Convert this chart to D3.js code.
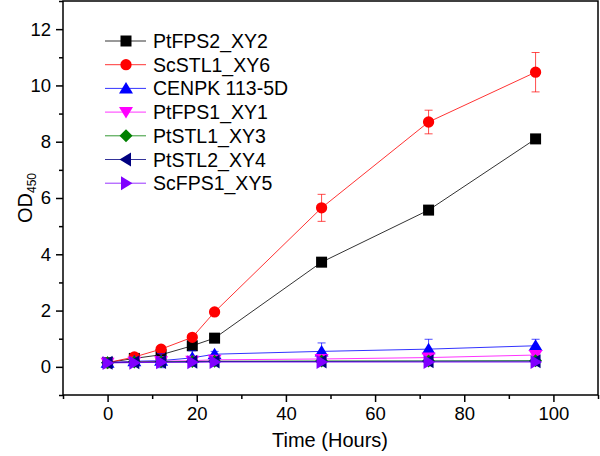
<!DOCTYPE html>
<html>
<head>
<meta charset="utf-8">
<script src="https://cdn.jsdelivr.net/npm/d3@7"></script>
<style>
  body { margin: 0; background: #fff; }
  text { font-family: "Liberation Sans", Arial, sans-serif; }
</style>
</head>
<body>
<svg id="chart" width="600" height="456"></svg>
<script>
// sampling times (hours)
var times = [0, 6, 12, 19, 24, 48, 72, 96];

// series names, colours and marker shapes
var names = ["PtFPS2_XY2", "ScSTL1_XY6", "CENPK 113-5D", "PtFPS1_XY1", "PtSTL1_XY3", "PtSTL2_XY4", "ScFPS1_XY5"];
var colors = ["#000000", "#ff0000", "#0000ff", "#ff00ff", "#008000", "#000080", "#8000ff"];
var shapes = ["square", "circle", "triUp", "triDown", "diamond", "triLeft", "triRight"];

// OD450 values
var ptFPS2 = [0.15, 0.30, 0.43, 0.75, 1.02, 3.72, 5.57, 8.10];
var scSTL1 = [0.15, 0.35, 0.63, 1.05, 1.95, 5.65, 8.70, 10.47];
var cenpk  = [0.15, 0.20, 0.22, 0.32, 0.45, 0.55, 0.63, 0.75];
var ptFPS1 = [0.15, 0.18, 0.20, 0.22, 0.25, 0.28, 0.33, 0.42];
var ptSTL1 = [0.15, 0.17, 0.18, 0.19, 0.20, 0.21, 0.21, 0.22];
var ptSTL2 = [0.15, 0.16, 0.17, 0.18, 0.19, 0.19, 0.20, 0.20];
var scFPS1 = [0.14, 0.15, 0.16, 0.16, 0.17, 0.17, 0.17, 0.17];

// error bars (+/-)
var errFPS2 = [0.03, 0.03, 0.03, 0.03, 0.03, 0.05, 0.05, 0.05];
var errSTL1 = [0.05, 0.05, 0.05, 0.06, 0.06, 0.48, 0.42, 0.70];
var errCEN  = [0.05, 0.10, 0.25, 0.25, 0.10, 0.30, 0.35, 0.23];
var errFPS1 = [0.03, 0.03, 0.03, 0.05, 0.05, 0.05, 0.05, 0.10];
var errSTL1b = [0.02, 0.02, 0.02, 0.02, 0.02, 0.02, 0.02, 0.02];
var errSTL2 = [0.02, 0.02, 0.02, 0.02, 0.02, 0.02, 0.02, 0.02];
var errFPS1b = [0.02, 0.02, 0.02, 0.02, 0.02, 0.02, 0.02, 0.05];

var values = [ptFPS2, scSTL1, cenpk, ptFPS1, ptSTL1, ptSTL2, scFPS1];
var errors = [errFPS2, errSTL1, errCEN, errFPS1, errSTL1b, errSTL2, errFPS1b];

var xTicks = [0, 20, 40, 60, 80, 100];
var yTicks = [0, 2, 4, 6, 8, 10, 12];

var svg = d3.select("#chart");
var plotL = 63, plotR = 598, plotT = 1, plotB = 395;

var x = d3.scaleLinear().domain([-10, 110]).range([plotL, plotR]);
var y = d3.scaleLinear().domain([-1, 13]).range([plotB, plotT]);

// frame
svg.append("rect")
  .attr("x", plotL).attr("y", plotT)
  .attr("width", plotR - plotL).attr("height", plotB - plotT)
  .attr("fill", "none").attr("stroke", "#000").attr("stroke-width", 1.5);

// axes
var xAxis = svg.append("g").attr("transform", "translate(0," + plotB + ")")
  .call(d3.axisBottom(x).tickValues(xTicks).tickSize(7).tickSizeOuter(0).tickPadding(5));
var xMinor = svg.append("g").attr("transform", "translate(0," + plotB + ")")
  .call(d3.axisBottom(x).tickValues(d3.range(-10, 111, 20)).tickSize(4).tickSizeOuter(0).tickFormat(""));
var yAxis = svg.append("g").attr("transform", "translate(" + plotL + ",0)")
  .call(d3.axisLeft(y).tickValues(yTicks).tickSize(7).tickSizeOuter(0).tickPadding(5));
var yMinor = svg.append("g").attr("transform", "translate(" + plotL + ",0)")
  .call(d3.axisLeft(y).tickValues(d3.range(-1, 13.1, 2)).tickSize(4).tickSizeOuter(0).tickFormat(""));

[xAxis, xMinor, yAxis, yMinor].forEach(function(g) {
  g.select(".domain").remove();
  g.selectAll("line").attr("stroke", "#000").attr("stroke-width", 1.5);
  g.selectAll("text").attr("font-size", 18.5).attr("fill", "#000")
    .style("font-family", "Liberation Sans, Arial, sans-serif");
});

// axis titles
svg.append("text")
  .attr("x", 330).attr("y", 447)
  .attr("text-anchor", "middle").attr("font-size", 20)
  .text("Time (Hours)");

var yTitle = svg.append("text")
  .attr("transform", "translate(32,198) rotate(-90)")
  .attr("text-anchor", "middle").attr("font-size", 20);
yTitle.append("tspan").text("OD");
yTitle.append("tspan").attr("font-size", 12).attr("dy", 4).text("450");

function markerPath(shape) {
  if (shape === "square") return "M-5.5,-5.5H5.5V5.5H-5.5Z";
  if (shape === "circle") return d3.symbol().type(d3.symbolCircle).size(100)();
  if (shape === "diamond") return "M0,-6.5L6.5,0L0,6.5L-6.5,0Z";
  if (shape === "triUp") return "M0,-6.5L7,5L-7,5Z";
  if (shape === "triDown") return "M0,6.5L7,-5L-7,-5Z";
  if (shape === "triLeft") return "M-6.5,0L5,-7L5,7Z";
  if (shape === "triRight") return "M6.5,0L-5,-7L-5,7Z";
  return "";
}

var line = d3.line()
  .x(function(d) { return x(d[0]); })
  .y(function(d) { return y(d[1]); });

names.forEach(function(name, k) {
  var pts = times.map(function(t, i) { return [t, values[k][i], errors[k][i]]; });
  var g = svg.append("g");
  g.append("path").datum(pts)
    .attr("d", line).attr("fill", "none")
    .attr("stroke", colors[k]).attr("stroke-width", 1).attr("stroke-opacity", 0.8);

  // error bars
  pts.forEach(function(p) {
    var cx = x(p[0]), y1 = y(p[1] + p[2]), y2 = y(p[1] - p[2]);
    g.append("path")
      .attr("d", "M" + cx + "," + y1 + "V" + y2 + "M" + (cx - 4) + "," + y1 + "H" + (cx + 4) + "M" + (cx - 4) + "," + y2 + "H" + (cx + 4))
      .attr("fill", "none").attr("stroke", colors[k]).attr("stroke-width", 1).attr("stroke-opacity", 0.7);
  });

  g.selectAll(".m").data(pts).enter().append("path")
    .attr("d", markerPath(shapes[k]))
    .attr("transform", function(d) { return "translate(" + x(d[0]) + "," + y(d[1]) + ")"; })
    .attr("fill", colors[k]);
});

// legend
var legend = svg.append("g");
names.forEach(function(name, k) {
  var ly = 41 + k * 23.7;
  legend.append("line").attr("x1", 105).attr("x2", 146).attr("y1", ly).attr("y2", ly)
    .attr("stroke", colors[k]).attr("stroke-width", 1).attr("stroke-opacity", 0.8);
  legend.append("path").attr("d", markerPath(shapes[k]))
    .attr("transform", "translate(126," + ly + ")").attr("fill", colors[k]);
  legend.append("text").attr("x", 153).attr("y", ly + 7)
    .attr("font-size", 19.5).text(name);
});
</script>
</body>
</html>
